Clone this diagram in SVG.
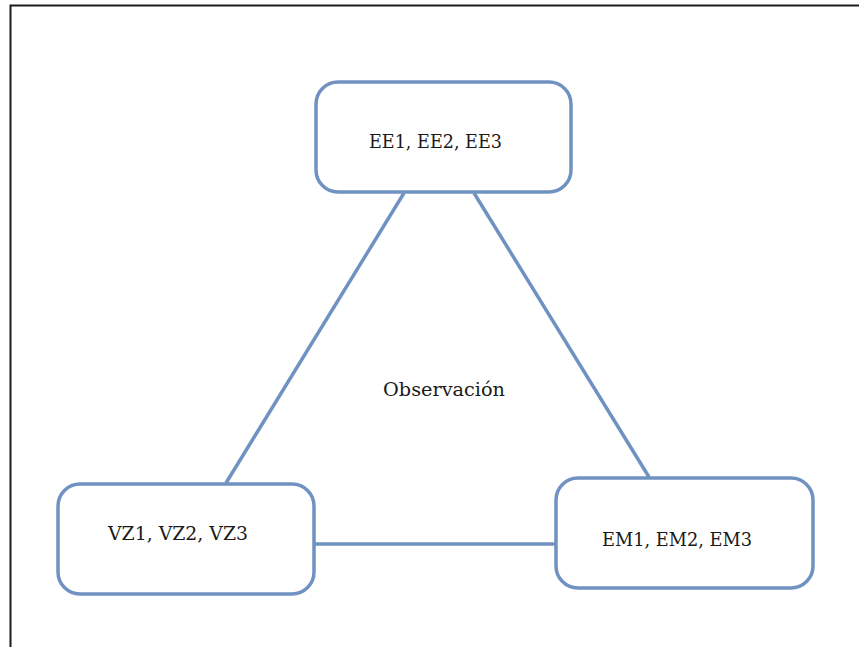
<svg xmlns="http://www.w3.org/2000/svg" width="859" height="647" viewBox="0 0 859 647">
<style>
.box{fill:#fff;stroke:#7092c2;stroke-width:3.5}
.con{stroke:#7092c2;stroke-width:3.5;fill:none}
.t{font-family:"DejaVu Serif","Liberation Serif",serif;font-size:18px;fill:#1a1a1a;text-anchor:middle}
</style>
<rect width="859" height="647" fill="#fff"/>
<path d="M10.5,647 V5.5 H859" fill="none" stroke="#1a1a1a" stroke-width="2"/>
<g id="connectors">
<line class="con" x1="404" y1="193" x2="226" y2="483"/>
<line class="con" x1="474" y1="193" x2="649" y2="477"/>
<line class="con" x1="314" y1="544" x2="556" y2="544"/>
</g>
<g id="ee">
<rect class="box" x="316" y="82" width="255" height="110" rx="22"/>
<text class="t" x="435.5" y="148" textLength="133" lengthAdjust="spacingAndGlyphs">EE1, EE2, EE3</text>
</g>
<g id="vz">
<rect class="box" x="58" y="484" width="256" height="110" rx="22"/>
<text class="t" x="178" y="540" textLength="140" lengthAdjust="spacingAndGlyphs">VZ1, VZ2, VZ3</text>
</g>
<g id="em">
<rect class="box" x="556" y="478" width="257" height="110" rx="22"/>
<text class="t" x="677" y="546" textLength="150" lengthAdjust="spacingAndGlyphs">EM1, EM2, EM3</text>
</g>
<text class="t" x="444" y="396" textLength="122" lengthAdjust="spacingAndGlyphs">Observación</text>
</svg>
